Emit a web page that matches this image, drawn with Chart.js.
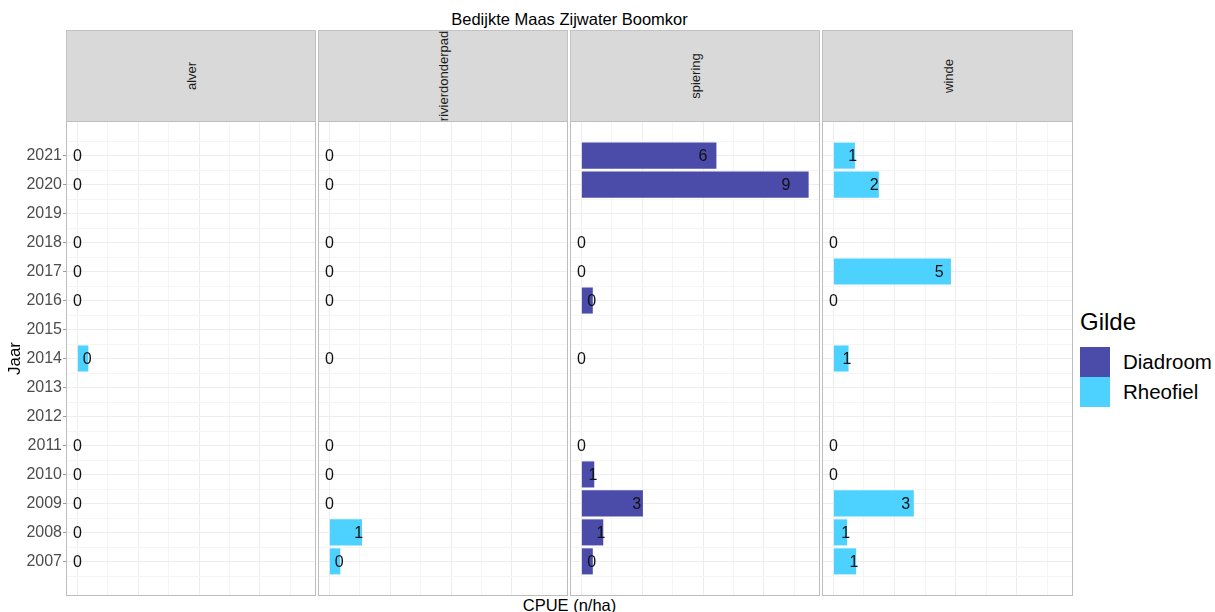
<!DOCTYPE html>
<html>
<head>
<meta charset="utf-8">
<script src="https://cdn.jsdelivr.net/npm/chart.js@4.4.1/dist/chart.umd.min.js"></script>
<style>
html,body{margin:0;padding:0;background:#fff;}
#wrap{position:relative;width:1215px;height:612px;overflow:hidden;font-family:"Liberation Sans",Arial,sans-serif;color:#000;}
canvas{position:absolute;top:121px;}
.strip{position:absolute;top:30px;height:91px;background:#D9D9D9;border:1px solid #C2C2C2;border-bottom:none;box-sizing:border-box;overflow:hidden;}
.strip span{position:absolute;left:50%;top:50%;transform:translate(-50%,-50%) rotate(-90deg);font-size:13px;color:#1A1A1A;white-space:nowrap;line-height:15px;}
#title{position:absolute;left:66px;width:1007px;top:9px;text-align:center;font-size:16.5px;line-height:20px;color:#000;}
#xtitle{position:absolute;left:66px;width:1007px;top:595px;text-align:center;font-size:16.5px;line-height:20px;color:#000;}
#legTitle{position:absolute;left:1080px;top:308px;font-size:24px;line-height:28px;}
.key{position:absolute;left:1080px;width:30px;height:30px;}
.klab{position:absolute;left:1123px;height:30px;line-height:30px;font-size:20.5px;}
</style>
</head>
<body>
<div id="wrap">
  <div id="title">Bedijkte Maas Zijwater Boomkor</div>
  <div id="xtitle">CPUE (n/ha)</div>
  <div id="legTitle">Gilde</div>
  <div class="key" id="k0" style="top:347px;"></div>
  <div class="klab" id="l0" style="top:347px;"></div>
  <div class="key" id="k1" style="top:377px;"></div>
  <div class="klab" id="l1" style="top:377px;"></div>
</div>
<script>
// ---- data ----
const years = [2007, 2008, 2009, 2010, 2011, 2012, 2013, 2014, 2015, 2016, 2017, 2018, 2019, 2020, 2021];
const species = ['alver', 'rivierdonderpad', 'spiering', 'winde'];
const alver           = [0,    0,    0,    0,    0, null, null, 0.45, null, 0,    0,    0, null, 0,    0];
const rivierdonderpad = [0.45, 1.34, 0,    0,    0, null, null, 0,    null, 0,    0,    0, null, 0,    0];
const spiering        = [0.47, 0.90, 2.53, 0.53, 0, null, null, 0,    null, 0.47, 0,    0, null, 9.34, 5.55];
const winde           = [0.93, 0.56, 3.29, 0,    0, null, null, 0.62, null, 0,    4.81, 0, null, 1.86, 0.88];
const guildNames = ['Diadroom', 'Rheofiel'];
const speciesGuild = ['Rheofiel', 'Rheofiel', 'Diadroom', 'Rheofiel'];
const guildColors = {Diadroom: '#4B4BAA', Rheofiel: '#4DD2FF'};
const seriesBySpecies = [alver, rivierdonderpad, spiering, winde];

// ---- layout (pixels) ----
const panels = [
  {left: 0,   width: 316, area: 66, axis: true},
  {left: 318, width: 250, area: 0,  axis: false},
  {left: 570, width: 250, area: 0,  axis: false},
  {left: 822, width: 251, area: 0,  axis: false}
];
const FONT = '"Liberation Sans", Arial, sans-serif';
Chart.defaults.font.family = FONT;

// shared scale limits (ggplot-like 5% expansion)
const allVals = seriesBySpecies.flat().filter(v => v !== null);
const xMaxData = Math.max(...allVals);
const xPad = xMaxData * 0.05;
const X_MIN = -xPad, X_MAX = xMaxData + xPad;
const ySpan = (years[years.length - 1] - years[0]) + 0.9;
const Y_MIN = years[0] - 0.45 - ySpan * 0.05;
const Y_MAX = years[years.length - 1] + 0.45 + ySpan * 0.05;
const xBreaks = [0, 1.25, 2.5, 3.75, 5, 6.25, 7.5, 8.75];

const wrap = document.getElementById('wrap');

// legend
guildNames.forEach((g, i) => {
  document.getElementById('k' + i).style.background = guildColors[g];
  document.getElementById('l' + i).textContent = g;
});

const labelPlugin = {
  id: 'barLabels',
  afterDatasetsDraw(chart) {
    const ctx = chart.ctx;
    const xs = chart.scales.x;
    const meta = chart.getDatasetMeta(0);
    const ds = chart.data.datasets[0];
    ctx.save();
    ctx.font = '16px ' + FONT;
    ctx.fillStyle = '#111';
    ctx.textAlign = 'center';
    ctx.textBaseline = 'middle';
    meta.data.forEach((el, i) => {
      const v = ds.data[i].x;
      const px = xs.getPixelForValue(v * 0.9);
      ctx.fillText(String(Math.round(v)), px, el.y + 1);
    });
    ctx.restore();
  }
};

const framePlugin = {
  id: 'frame',
  beforeDatasetsDraw(chart) {
    const {ctx, chartArea: a} = chart;
    const ys = chart.scales.y;
    ctx.save();
    ctx.strokeStyle = '#F5F5F5';
    ctx.lineWidth = 1;
    for (let k = 0; k <= years.length; k++) {
      const yv = years[0] - 0.5 + k;
      const py = Math.round(ys.getPixelForValue(yv)) + 0.5;
      ctx.beginPath();
      ctx.moveTo(a.left, py);
      ctx.lineTo(a.right, py);
      ctx.stroke();
    }
    ctx.restore();
  },
  afterDraw(chart) {
    const {ctx, chartArea: a} = chart;
    ctx.save();
    ctx.strokeStyle = '#BDBDBD';
    ctx.lineWidth = 1;
    ctx.strokeRect(a.left + 0.5, a.top + 0.5, a.right - a.left - 1, a.bottom - a.top - 1);
    ctx.restore();
  }
};

panels.forEach((p, idx) => {
  // strip
  const strip = document.createElement('div');
  strip.className = 'strip';
  const sLeft = p.left + p.area;
  strip.style.left = sLeft + 'px';
  strip.style.width = (p.width - p.area) + 'px';
  const sp = document.createElement('span');
  sp.textContent = species[idx];
  strip.appendChild(sp);
  wrap.appendChild(strip);

  const cv = document.createElement('canvas');
  cv.width = p.width;
  cv.height = 475;
  cv.style.left = p.left + 'px';
  cv.style.width = p.width + 'px';
  cv.style.height = '475px';
  wrap.appendChild(cv);

  const vals = seriesBySpecies[idx];
  const pts = [];
  years.forEach((yr, i) => { if (vals[i] !== null) pts.push({x: vals[i], y: yr}); });
  const col = guildColors[speciesGuild[idx]];

  new Chart(cv, {
    type: 'bar',
    data: {
      datasets: [{
        label: speciesGuild[idx],
        data: pts,
        backgroundColor: col,
        borderWidth: 0,
        barPercentage: 0.9,
        categoryPercentage: 1.0
      }]
    },
    options: {
      indexAxis: 'y',
      responsive: false,
      animation: false,
      devicePixelRatio: 1,
      layout: {padding: 0},
      plugins: {legend: {display: false}, tooltip: {enabled: false}},
      scales: {
        x: {
          type: 'linear',
          min: X_MIN,
          max: X_MAX,
          offset: false,
          afterBuildTicks: s => { s.ticks = xBreaks.map(v => ({value: v})); },
          afterFit: s => { s.height = 0; s.paddingLeft = 0; s.paddingRight = 0; },
          ticks: {display: false},
          grid: {
            offset: false,
            drawTicks: false,
            lineWidth: 1,
            color: c => (c.tick && (c.tick.value % 2.5 === 0)) ? '#EDEDED' : '#F5F5F5'
          },
          border: {display: false}
        },
        y: {
          type: 'linear',
          reverse: false,
          offset: false,
          min: Y_MIN,
          max: Y_MAX,
          afterBuildTicks: s => { s.ticks = years.map(v => ({value: v})); },
          afterFit: s => { s.width = p.area; s.paddingTop = 0; s.paddingBottom = 0; },
          ticks: {
            display: p.axis,
            color: '#4D4D4D',
            font: {size: 16, family: FONT},
            padding: 1,
            callback: v => String(v)
          },
          grid: {
            offset: false,
            drawTicks: p.axis,
            tickLength: 3,
            tickColor: '#9A9A9A',
            color: '#EDEDED',
            lineWidth: 1
          },
          border: {display: false},
          title: {
            display: p.axis,
            text: 'Jaar',
            color: '#000',
            font: {size: 17, family: FONT},
            padding: {top: 5, bottom: 0}
          }
        }
      }
    },
    plugins: [framePlugin, labelPlugin]
  });
});
</script>
</body>
</html>
